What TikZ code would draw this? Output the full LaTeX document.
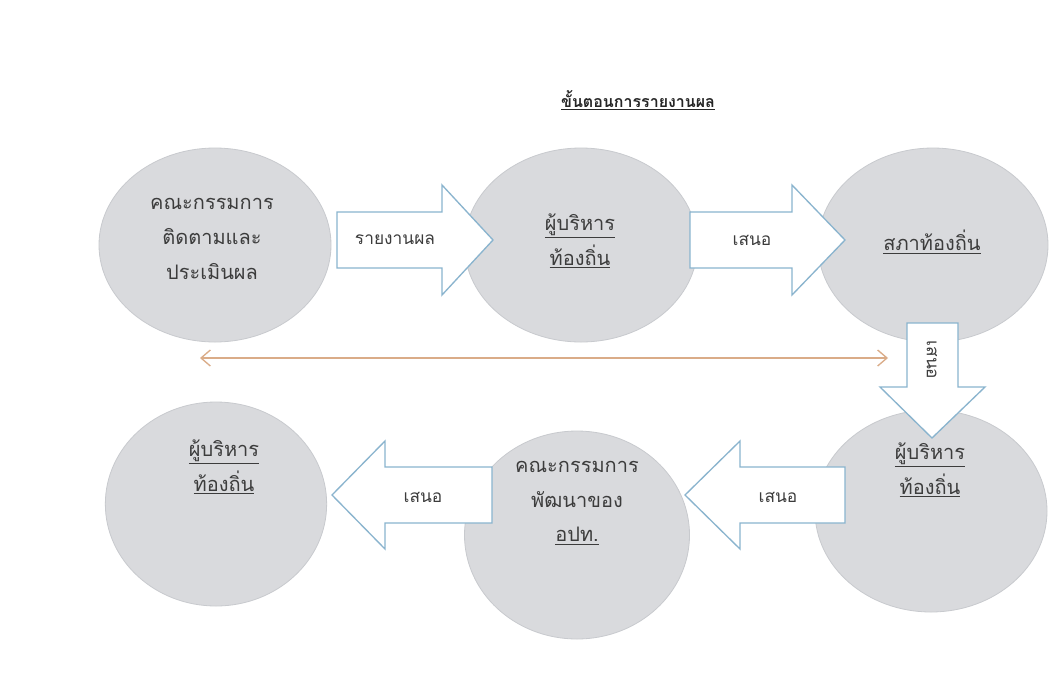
\documentclass[tikz,border=0pt]{standalone}
\usepackage{fontspec}
\newfontfamily\thai[Script=Thai]{Loma}
\usetikzlibrary{shapes.geometric,arrows.meta}
\definecolor{bubblegray}{RGB}{217,218,221}
\definecolor{bubbleedge}{RGB}{200,202,206}
\definecolor{arrowedge}{RGB}{138,180,206}
\definecolor{tanline}{RGB}{218,172,136}
\definecolor{textgray}{RGB}{60,60,60}
\begin{document}
\begin{tikzpicture}[x=0.75pt,y=-0.75pt,
  bubble/.style={ellipse, fill=bubblegray, draw=bubbleedge, line width=0.6pt, inner sep=0pt},
  btext/.style={font=\thai\fontsize{15}{26}\selectfont, text=textgray, align=center, inner sep=0pt},
  atext/.style={font=\thai\fontsize{13}{16}\selectfont, text=textgray, inner sep=0pt},
  blockarrow/.style={fill=white, draw=arrowedge, line width=1pt, line join=miter},
  link/.style={draw=tanline, line width=1pt, {Straight Barb[length=7pt,width=12pt]}-{Straight Barb[length=7pt,width=12pt]}}
]
\useasboundingbox (0,0) rectangle (1049,679);
\fill[white] (0,0) rectangle (1049,679);

% title
\node[font=\thai\bfseries\fontsize{12}{15}\selectfont, text=black!85, inner sep=0pt] (title) at (638,100) {\underline{ขั้นตอนการรายงานผล}};

% bubbles
\node[bubble, minimum width=174pt, minimum height=145.5pt] (e1) at (215,245) {};
\node[bubble, minimum width=174.75pt, minimum height=145.5pt] (e2) at (581,245) {};
\node[bubble, minimum width=172.5pt, minimum height=145.5pt] (e3) at (933,245) {};
\node[bubble, minimum width=166pt, minimum height=153pt] (e4) at (216,504) {};
\node[bubble, minimum width=168.75pt, minimum height=156pt] (e5) at (577,535) {};
\node[bubble, minimum width=174pt, minimum height=151.5pt] (e6) at (931,511) {};

% bubble texts
\node[btext] (t1) at (212,239) {คณะกรรมการ\\ติดตามและ\\ประเมินผล};
\node[btext] (t2) at (580,241) {\underline{ผู้บริหาร}\\\underline{ท้องถิ่น}};
\node[btext] (t3) at (932,242) {\underline{สภาท้องถิ่น}};
\node[btext] (t4) at (224,467) {\underline{ผู้บริหาร}\\\underline{ท้องถิ่น}};
\node[btext] (t5) at (577,503) {คณะกรรมการ\\พัฒนาของ\\\underline{อปท.}};
\node[btext] (t6) at (930,470) {\underline{ผู้บริหาร}\\\underline{ท้องถิ่น}};

% long double-headed line
\coordinate (la) at (200,358);
\coordinate (lb) at (888,358);
\draw[link] (la) -- (lb);

% block arrows
\draw[blockarrow] (337,212) -- (442,212) -- (442,185) -- (493,240) -- (442,295) -- (442,268) -- (337,268) -- cycle;
\node[atext] (a1) at (395,240) {รายงานผล};

\draw[blockarrow] (690,212) -- (792,212) -- (792,185) -- (845,240) -- (792,295) -- (792,268) -- (690,268) -- cycle;
\node[atext] (a2) at (752,240) {เสนอ};

\draw[blockarrow] (907,323) -- (958,323) -- (958,387) -- (985,387) -- (932,438) -- (880,387) -- (907,387) -- cycle;
\node[atext, rotate=-90] (a3) at (932,360) {เสนอ};

\draw[blockarrow] (845,467) -- (740,467) -- (740,441) -- (685,495) -- (740,549) -- (740,523) -- (845,523) -- cycle;
\node[atext] (a5) at (778,497) {เสนอ};

\draw[blockarrow] (492,467) -- (385,467) -- (385,441) -- (332,495) -- (385,549) -- (385,523) -- (492,523) -- cycle;
\node[atext] (a4) at (423,497) {เสนอ};
\end{tikzpicture}
\end{document}
